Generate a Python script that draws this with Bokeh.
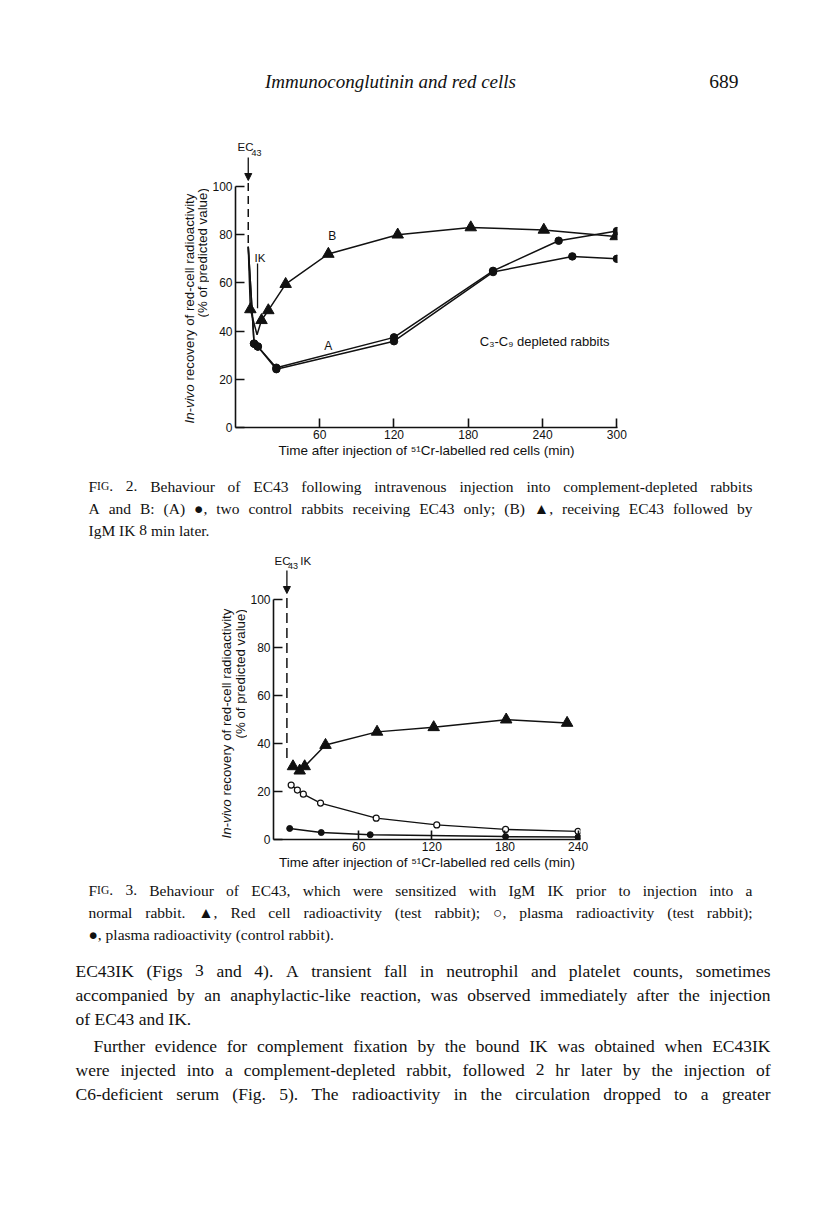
import math
from bokeh.plotting import figure
from bokeh.models import Arrow, NormalHead, Range1d, FixedTicker
from bokeh.layouts import row
from bokeh.embed import file_html
from bokeh.resources import INLINE
from bokeh.core.properties import value

# ---------------- data: Fig. 2 ----------------
f2_xticks = [60, 120, 180, 240, 300]
f2_yticks = [0, 20, 40, 60, 80, 100]
f2_injection_t = 2.3
f2_drop_top = 101.5
f2_drop_end = 75

b_t = [2.3, 4, 9.4, 13, 18.5, 32.5, 67, 123, 182, 241, 299]
b_v = [75, 49, 38.5, 44.5, 48.6, 59.5, 72, 80, 83, 82, 79.3]
b_marked = [1, 3, 4, 5, 6, 7, 8, 9, 10]

a1_t = [2.3, 7, 10, 25, 120, 200, 253, 300]
a1_v = [75, 34.8, 33.6, 24.8, 37.4, 65, 77.5, 81.5]
a2_t = [2.3, 7, 10, 25, 120, 200, 264, 300]
a2_v = [75, 34.8, 33.6, 24.2, 35.8, 64.5, 71, 70]

ik_t = 9.8
ik_top = 68
ik_bottom = 49.5

# ---------------- data: Fig. 3 ----------------
f3_xticks = [60, 120, 180, 240]
f3_yticks = [0, 20, 40, 60, 80, 100]
f3_injection_t = 1
f3_drop_top = 100.8
f3_drop_end = 32

tri_t = [6, 11.5, 15.6, 32.7, 75, 121.5, 181, 231]
tri_v = [30.5, 28.7, 30.5, 39.4, 44.9, 46.8, 50, 48.6]
open_t = [4.5, 9.6, 14.5, 28.6, 74.3, 124, 180.5, 240]
open_v = [22.7, 20.6, 18.9, 15.2, 8.9, 6.1, 4.2, 3.4]
fill_t = [3.3, 29.2, 69.4, 180.5, 240]
fill_v = [4.6, 2.9, 2.0, 1.2, 1.0]

# ---------------- page text ----------------
cap2_lines = [
    ("FIG. 2. Behaviour of EC43 following intravenous injection into complement-depleted rabbits", True),
    ("A and B: (A) \u25cf, two control rabbits receiving EC43 only; (B) \u25b2, receiving EC43 followed by", True),
    ("IgM IK 8 min later.", False),
]
cap3_lines = [
    ("FIG. 3. Behaviour of EC43, which were sensitized with IgM IK prior to injection into a", True),
    ("normal rabbit. \u25b2, Red cell radioactivity (test rabbit); \u25cb, plasma radioactivity (test rabbit);", True),
    ("\u25cf, plasma radioactivity (control rabbit).", False),
]
body_lines = [
    ("EC43IK (Figs 3 and 4). A transient fall in neutrophil and platelet counts, sometimes", True, 0),
    ("accompanied by an anaphylactic-like reaction, was observed immediately after the injection", True, 0),
    ("of EC43 and IK.", False, 0),
    ("Further evidence for complement fixation by the bound IK was obtained when EC43IK", True, 18),
    ("were injected into a complement-depleted rabbit, followed 2 hr later by the injection of", True, 0),
    ("C6-deficient serum (Fig. 5). The radioactivity in the circulation dropped to a greater", True, 0),
]

SANS = "Liberation Sans"
SERIF = "Liberation Serif"
INK = "#111111"
W = 816
XTITLE = "Time after injection of \u2075\u00b9Cr-labelled red cells (min)"
YT = 13.3

# Times (Liberation Serif is metric compatible) advance widths, 1/1000 em
_TW = {" ": 250, "!": 333, "%": 833, "(": 333, ")": 333, ",": 250, "-": 333, ".": 250,
       ":": 278, ";": 278, "\u25cf": 604, "\u25cb": 604, "\u25b2": 990}
_TW.update({d: 500 for d in "0123456789"})
_TW.update(dict(zip("ABCDEFGHIJKLMNOPQRSTUVWXYZ",
                    [722, 667, 667, 722, 611, 556, 722, 722, 333, 389, 722, 611, 889, 722, 722,
                     556, 722, 667, 556, 611, 722, 722, 944, 722, 722, 611])))
_TW.update(dict(zip("abcdefghijklmnopqrstuvwxyz",
                    [444, 500, 444, 500, 444, 333, 500, 500, 278, 278, 500, 278, 778, 500, 500,
                     500, 500, 333, 389, 278, 500, 500, 722, 500, 500, 444])))


def tw(s, size):
    return sum(_TW.get(ch, 500) for ch in s) * size / 1000.0


def bare(p):
    p.outline_line_color = None
    p.xgrid.visible = False
    p.ygrid.visible = False
    p.background_fill_color = "white"
    p.border_fill_color = "white"
    return p


def text_fig(w, x0, band_top, band_bottom, frame_top=None, frame_bottom=None):
    ft = band_top if frame_top is None else frame_top
    fb = band_bottom if frame_bottom is None else frame_bottom
    p = figure(width=w, height=band_bottom - band_top, x_range=Range1d(x0, x0 + w),
               y_range=Range1d(-fb, -ft), x_axis_type=None, y_axis_type=None,
               output_backend="svg", toolbar_location=None, min_border=0,
               min_border_top=ft - band_top, min_border_bottom=band_bottom - fb)
    return bare(p)


def txt(p, px, py, s, size, font=SERIF, style="normal", align="left", angle=0.0):
    p.text(x=[px], y=[-py], text=[s], text_font=value(font), text_font_size=value(f"{size}px"),
           text_font_style=style, text_align=align, text_baseline="middle", angle=angle,
           text_color=INK)


def set_text(p, lines, x_left, x_right, y_first, step, size, small=11.5):
    """Place justified serif lines word by word (baseline positioned)."""
    buckets = {}
    for k, item in enumerate(lines):
        s, justify = item[0], item[1]
        indent = item[2] if len(item) > 2 else 0
        base = y_first + k * step + 0.33 * size - 5.5
        words = []
        for wd in s.split(" "):
            if wd == "FIG.":
                words.append([("F", size), ("IG", small), (".", size)])
            else:
                words.append([(wd, size)])
        widths = [sum(tw(t, sz) for t, sz in w) for w in words]
        x0 = x_left + indent
        if justify and len(words) > 1:
            gap = (x_right - x0 - sum(widths)) / (len(words) - 1)
        else:
            gap = tw(" ", size)
        x = x0
        for w, wdt in zip(words, widths):
            cx = x
            for t, sz in w:
                b = buckets.setdefault(sz, ([], [], []))
                b[0].append(cx)
                b[1].append(-base)
                b[2].append(t)
                cx += tw(t, sz)
            x += wdt + gap
    for sz, (xs, ys, ts) in buckets.items():
        p.text(x=xs, y=ys, text=ts, text_font=value(SERIF), text_font_size=value(f"{sz}px"),
               text_align="left", text_baseline="alphabetic", text_color=INK)


class Chart:
    def __init__(self, w, band_top, band_bottom, fl, fr, ft, fb, xr, y_per_unit, xt, yt, fig_left):
        self.fl, self.fb = fl, fb
        self.x0 = xr[0]
        self.xs = (fr - fl) / (xr[1] - xr[0])
        self.ys = y_per_unit
        ytop = (fb - ft) / y_per_unit
        p = figure(width=w, height=band_bottom - band_top, x_range=Range1d(*xr),
                   y_range=Range1d(0, ytop), output_backend="svg", toolbar_location=None,
                   min_border_left=fl - fig_left, min_border_right=fig_left + w - fr,
                   min_border_top=ft - band_top, min_border_bottom=band_bottom - fb)
        bare(p)
        p.xaxis.ticker = FixedTicker(ticks=xt)
        p.yaxis.ticker = FixedTicker(ticks=yt)
        p.yaxis.bounds = (0, 100)
        for ax in (p.xaxis[0], p.yaxis[0]):
            ax.major_tick_in = 9
            ax.major_tick_out = 0
            ax.minor_tick_in = 0
            ax.minor_tick_out = 0
            ax.axis_line_width = 1.6
            ax.axis_line_color = INK
            ax.major_tick_line_width = 1.6
            ax.major_tick_line_color = INK
            ax.major_label_text_font = SANS
            ax.major_label_text_font_size = "12px"
            ax.major_label_text_color = INK
        p.xaxis.major_label_standoff = 2
        p.yaxis.major_label_standoff = 3
        p.xaxis.axis_label = XTITLE
        p.xaxis.axis_label_text_font = SANS
        p.xaxis.axis_label_text_font_size = "13.5px"
        p.xaxis.axis_label_text_font_style = "normal"
        p.xaxis.axis_label_text_color = INK
        p.xaxis.axis_label_standoff = 1
        self.p = p

    def dx(self, px):
        return self.x0 + (px - self.fl) / self.xs

    def dy(self, py):
        return (self.fb - py) / self.ys

    def txt(self, px, py, s, size, style="normal", align="left"):
        self.p.text(x=[self.dx(px)], y=[self.dy(py)], text=[s], text_font=value(SANS),
                    text_font_size=value(f"{size}px"), text_font_style=style,
                    text_align=align, text_baseline="middle", text_color=INK)


# ================= band 1: running head =================
head = text_fig(W, 0, 0, 125)
txt(head, 390, 81, "Immunoconglutinin and red cells", 19, style="italic", align="center")
txt(head, 738, 81, "689", 19.5, align="right")

# ================= band 2: Fig. 2 =================
LW1 = 209
c1 = Chart(W - LW1, 125, 470, 234, 617, 135, 427, (-8, 300.5), 2.41, f2_xticks, f2_yticks, LW1)
p1 = c1.p
p1.line([f2_injection_t, f2_injection_t], [f2_drop_top, f2_drop_end], line_dash="8 5",
        line_width=1.5, line_color=INK)
p1.add_layout(Arrow(end=NormalHead(size=7, fill_color=INK, line_color=INK), line_color=INK,
                    line_width=1.3, x_start=f2_injection_t, y_start=c1.dy(157),
                    x_end=f2_injection_t, y_end=c1.dy(180)))
p1.line([ik_t, ik_t], [ik_top, ik_bottom], line_width=1.3, line_color=INK)
for t, v in ((a1_t, a1_v), (a2_t, a2_v)):
    p1.line(t, v, line_width=1.5, line_color=INK)
    p1.scatter(t[1:], v[1:], marker="circle", size=7.5, fill_color=INK, line_color=INK)
p1.line(b_t, b_v, line_width=1.5, line_color=INK)
p1.scatter([b_t[i] for i in b_marked], [b_v[i] for i in b_marked], marker="triangle",
           size=11.5, fill_color=INK, line_color=INK)
c1.txt(236, 146, "EC", 11.5)
c1.txt(250, 152, "43", 9)
c1.txt(253, 257, "IK", 11.5)
c1.txt(327, 235, "B", 12)
c1.txt(323, 345, "A", 12)
c1.txt(479, 341, "C\u2083-C\u2089 depleted rabbits", 13)

left1 = text_fig(LW1, 0, 125, 470, 135, 427)
txt(left1, 189, 423, "In-vivo", YT, font=SANS, style="italic", angle=math.pi / 2)
txt(left1, 189, 380, "recovery of red-cell radioactivity", YT, font=SANS, angle=math.pi / 2)
txt(left1, 202, 317, "(% of predicted value)", YT, font=SANS, angle=math.pi / 2)

band2 = row(left1, p1, spacing=0)

# ================= band 3: caption of Fig. 2 =================
cap2 = text_fig(W, 0, 470, 548)
set_text(cap2, cap2_lines, 88, 752, 486, 22, 15.5)

# ================= band 4: Fig. 3 =================
LW2 = 247
c2 = Chart(W - LW2, 548, 876, 271, 580, 552, 839, (-10, 242), 2.397, f3_xticks, f3_yticks, LW2)
p2 = c2.p
p2.line([f3_injection_t, f3_injection_t], [f3_drop_top, f3_drop_end], line_dash="10 5",
        line_width=1.5, line_color=INK)
p2.add_layout(Arrow(end=NormalHead(size=7, fill_color=INK, line_color=INK), line_color=INK,
                    line_width=1.3, x_start=f3_injection_t, y_start=c2.dy(570),
                    x_end=f3_injection_t, y_end=c2.dy(593)))
p2.line(tri_t, tri_v, line_width=1.5, line_color=INK)
p2.scatter(tri_t, tri_v, marker="triangle", size=11.5, fill_color=INK, line_color=INK)
p2.line(open_t, open_v, line_width=1.3, line_color=INK)
p2.scatter(open_t, open_v, marker="circle", size=6, fill_color="white", line_color=INK, line_width=1.2)
p2.line(fill_t, fill_v, line_width=1.5, line_color=INK)
p2.scatter(fill_t, fill_v, marker="circle", size=6, fill_color=INK, line_color=INK)
c2.txt(272, 560, "EC", 11.5)
c2.txt(285.5, 565, "43", 9)
c2.txt(298, 560, "IK", 11.5)

left2 = text_fig(LW2, 0, 548, 876, 552, 839)
txt(left2, 226, 838, "In-vivo", YT, font=SANS, style="italic", angle=math.pi / 2)
txt(left2, 226, 795, "recovery of red-cell radioactivity", YT, font=SANS, angle=math.pi / 2)
txt(left2, 240, 738, "(% of predicted value)", YT, font=SANS, angle=math.pi / 2)

band4 = row(left2, p2, spacing=0)

# ================= band 5: caption of Fig. 3 and body text =================
tail = text_fig(W, 0, 876, 1212)
set_text(tail, cap3_lines, 88, 752, 890, 22, 15.5)
set_text(tail, body_lines[:3], 75, 770, 970, 24, 17.5)
set_text(tail, body_lines[3:], 75, 770, 1045, 24, 17.5)

roots = [head, band2, cap2, band4, tail]
open("out.html", "w").write(file_html(roots, INLINE))
